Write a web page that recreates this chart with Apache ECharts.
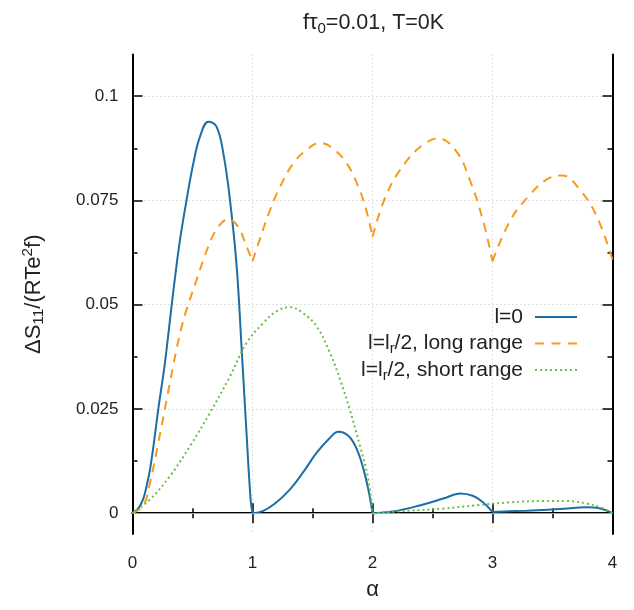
<!DOCTYPE html>
<html>
<head>
<meta charset="utf-8">
<script src="https://cdn.jsdelivr.net/npm/echarts@6/dist/echarts.min.js"></script>
<style>
  html, body { margin: 0; padding: 0; background: #fff; }
  #chart { width: 634px; height: 610px; }
</style>
</head>
<body>
<div id="chart"></div>
<script>
// l=0
const alphaL0 = [0, 0.05, 0.09, 0.12, 0.146, 0.18, 0.215, 0.27, 0.327, 0.36, 0.396, 0.45, 0.507, 0.5625, 0.632, 0.70, 0.757, 0.8125, 0.868, 0.91, 0.95, 0.985, 1.0,
  1.09, 1.2, 1.3125, 1.42, 1.535, 1.646, 1.715, 1.80, 1.87, 1.925, 1.965, 2.0,
  2.17, 2.4, 2.59, 2.73, 2.84, 2.92, 3.0,
  3.285, 3.56, 3.785, 3.9, 4.0];
const valueL0 = [0, 0.0012, 0.0035, 0.0068, 0.0105, 0.0172, 0.025, 0.036, 0.050, 0.0578, 0.0656, 0.075, 0.0839, 0.0903, 0.0939, 0.0927, 0.0863, 0.0751, 0.0592, 0.0392, 0.0193, 0.003, 0,
  0.00055, 0.0026, 0.0057, 0.0097, 0.0145, 0.0181, 0.0195, 0.0185, 0.0153, 0.0105, 0.0057, 0,
  0.0004, 0.0019, 0.0035, 0.0047, 0.0041, 0.0026, 0.0003,
  0.0006, 0.001, 0.0014, 0.0011, 0];

// l=lr/2, long range
const alphaLong = [0, 0.09, 0.146, 0.215, 0.285, 0.368, 0.41, 0.45, 0.535, 0.632, 0.715, 0.80, 0.88, 0.95, 1.0,
  1.06, 1.146, 1.23, 1.34, 1.45, 1.5625, 1.67, 1.785, 1.87, 1.94, 2.0,
  2.12, 2.28, 2.42, 2.55, 2.70, 2.81, 2.92, 3.0,
  3.15, 3.31, 3.45, 3.58, 3.73, 3.87, 4.0];
const valueLong = [0, 0.0018, 0.0073, 0.0169, 0.0273, 0.0395, 0.0447, 0.0488, 0.056, 0.064, 0.0687, 0.0705, 0.0687, 0.064, 0.0604,
  0.0656, 0.0727, 0.0783, 0.0839, 0.0871, 0.0888, 0.0875, 0.0839, 0.0791, 0.0735, 0.0663,
  0.0767, 0.0843, 0.0883, 0.0899, 0.0867, 0.080, 0.0703, 0.0604,
  0.0703, 0.0763, 0.080, 0.081, 0.0775, 0.0711, 0.0608];

// l=lr/2, short range
const alphaShort = [0, 0.146, 0.3125, 0.48, 0.646, 0.8125, 0.95, 1.09, 1.20, 1.3125, 1.42, 1.535, 1.646, 1.73, 1.81, 1.896, 1.965, 2.0,
  2.31, 2.59, 2.87, 3.15, 3.42, 3.62, 3.785, 3.9, 4.0];
const valueShort = [0, 0.0033, 0.0089, 0.0161, 0.0241, 0.0328, 0.0408, 0.0456, 0.0484, 0.0494, 0.048, 0.0448, 0.0384, 0.032, 0.0249, 0.0161, 0.0081, 0,
  0.0006, 0.0011, 0.0019, 0.0026, 0.0029, 0.0029, 0.0023, 0.0014, 0];

// kinks where the curves are not smooth
const cusps = [1, 2, 3];

const yTicks = [0, 0.025, 0.05, 0.075, 0.1];
const yMinorTicks = [0.0125, 0.0375, 0.0625, 0.0875];

const names = ['l=0', 'l=lr/2, long range', 'l=lr/2, short range'];
const labels = {
  'l=0': 'l=0',
  'l=lr/2, long range': 'l=l{sub|r}/2, long range',
  'l=lr/2, short range': 'l=l{sub|r}/2, short range'
};
const colors = ['#1c6ea4', '#f79a1e', '#6cbd45'];

// legend samples: solid, dashed, dotted strokes 42px x 2px
const legendIcons = [
  'path://M0,0h42v2h-42z',
  'path://M0,0h9v2h-9z M16.5,0h9v2h-9z M33,0h9v2h-9z',
  'path://M0,0h2v2h-2z M5,0h2v2h-2z M10,0h2v2h-2z M15,0h2v2h-2z M20,0h2v2h-2z M25,0h2v2h-2z M30,0h2v2h-2z M35,0h2v2h-2z M40,0h2v2h-2z'
];

function buildData(xs, ys) {
  const out = [];
  for (let i = 0; i < xs.length; ++i) {
    out.push([xs[i], ys[i]]);
    if (cusps.includes(xs[i]) && i < xs.length - 1) {
      out.push([xs[i], '-']);
      out.push([xs[i], ys[i]]);
    }
  }
  return out;
}

const FONT = '"Liberation Sans", Arial, sans-serif';
function richFor(size) {
  return {
    sub: { fontSize: size * 0.7, lineHeight: 12, verticalAlign: 'bottom', fontFamily: FONT, color: '#222' },
    sup: { fontSize: size * 0.7, lineHeight: 16, verticalAlign: 'top', fontFamily: FONT, color: '#222' }
  };
}

const tickLine = { color: '#000', width: 1.5 };
const frameLine = { show: true, lineStyle: { color: '#000', width: 2 } };
const gridLine = { show: true, lineStyle: { color: '#c0c0c0', type: [1, 3] } };

const chart = echarts.init(document.getElementById('chart'));

const legends = names.map((n, i) => ({
  data: [{ name: n, icon: legendIcons[i] }],
  orient: 'vertical',
  align: 'right',
  right: 57,
  top: 304 + i * 26.5,
  padding: 0,
  itemWidth: 42,
  itemHeight: 2,
  formatter: name => labels[name],
  textStyle: { fontSize: 21, lineHeight: 26, color: '#222', fontFamily: FONT, padding: [0, 7, 0, 0], rich: richFor(21) }
}));

const option = {
  animation: false,
  title: {
    text: 'fτ{sub|0}=0.01, T=0K',
    left: 298,
    top: 5,
    textStyle: { fontSize: 21.5, lineHeight: 26, fontWeight: 'normal', color: '#222', fontFamily: FONT, rich: richFor(21.5) }
  },
  legend: legends,
  grid: { left: 132.5, right: 21.5, top: 54.5, bottom: 76 },
  xAxis: [
    {
      type: 'value', min: 0, max: 4, interval: 1, position: 'bottom',
      name: 'α', nameLocation: 'middle', nameGap: 45,
      nameTextStyle: { fontSize: 22, color: '#222', fontFamily: FONT },
      axisLine: frameLine,
      axisTick: { inside: true, length: 10, lineStyle: tickLine },
      minorTick: { show: true, splitNumber: 2, length: 5, lineStyle: tickLine },
      axisLabel: { fontSize: 17, color: '#222', fontFamily: FONT, margin: 21 },
      splitLine: gridLine
    },
    {
      type: 'value', min: 0, max: 4, interval: 1, position: 'top',
      axisLine: frameLine,
      axisTick: { inside: true, length: 10, lineStyle: tickLine },
      minorTick: { show: true, splitNumber: 2, length: 5, lineStyle: tickLine },
      axisLabel: { show: false },
      splitLine: { show: false }
    }
  ],
  yAxis: [
    {
      type: 'value', min: -0.005, max: 0.11, position: 'left',
      name: 'ΔS{sub|11}/(RTe{sup|2}f)', nameLocation: 'middle', nameGap: 86,
      nameTextStyle: { fontSize: 22, lineHeight: 26, color: '#222', fontFamily: FONT, rich: richFor(22) },
      axisLine: frameLine,
      axisTick: { inside: true, length: 10, lineStyle: tickLine, customValues: yTicks },
      axisLabel: {
        fontSize: 17, color: '#222', fontFamily: FONT, margin: 14, customValues: yTicks,
        formatter: v => (v === 0 ? '0' : String(v))
      },
      splitLine: gridLine
    },
    {
      type: 'value', min: -0.005, max: 0.11, position: 'left',
      axisLine: { show: false },
      axisTick: { inside: true, length: 5, lineStyle: tickLine, customValues: yMinorTicks },
      axisLabel: { show: false },
      splitLine: { show: false }
    },
    {
      type: 'value', min: -0.005, max: 0.11, position: 'right',
      axisLine: frameLine,
      axisTick: { inside: true, length: 10, lineStyle: tickLine, customValues: yTicks },
      axisLabel: { show: false },
      splitLine: { show: false }
    },
    {
      type: 'value', min: -0.005, max: 0.11, position: 'right',
      axisLine: { show: false },
      axisTick: { inside: true, length: 5, lineStyle: tickLine, customValues: yMinorTicks },
      axisLabel: { show: false },
      splitLine: { show: false }
    }
  ],
  series: [
    {
      type: 'line', data: [], silent: true,
      markLine: {
        silent: true, symbol: 'none', label: { show: false },
        lineStyle: { color: '#a8a8a8', type: 'solid', width: 1 },
        data: [{ yAxis: 0 }]
      }
    },
    {
      name: names[0], type: 'line', data: buildData(alphaL0, valueL0),
      showSymbol: false, symbol: 'none', smooth: 0.4, clip: false,
      lineStyle: { color: colors[0], width: 2 }, itemStyle: { color: colors[0] }
    },
    {
      name: names[1], type: 'line', data: buildData(alphaLong, valueLong),
      showSymbol: false, symbol: 'none', smooth: 0.4, clip: false,
      lineStyle: { color: colors[1], width: 2, type: [9, 7] }, itemStyle: { color: colors[1] }
    },
    {
      name: names[2], type: 'line', data: buildData(alphaShort, valueShort),
      showSymbol: false, symbol: 'none', smooth: 0.4, clip: false,
      lineStyle: { color: colors[2], width: 2, type: [2, 3] }, itemStyle: { color: colors[2] }
    }
  ]
};

chart.setOption(option);
window.addEventListener('resize', () => { chart.resize(); });
</script>
</body>
</html>
